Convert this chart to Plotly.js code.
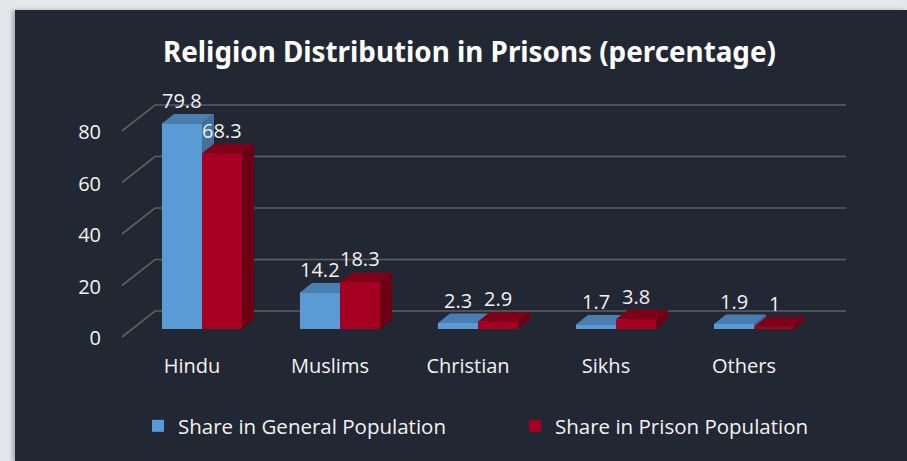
<!DOCTYPE html>
<html>
<head>
<meta charset="utf-8">
<script src="https://cdn.plot.ly/plotly-3.0.1.min.js"></script>
<style>
  html, body { margin: 0; padding: 0; width: 907px; height: 461px; background: #e5e7eb; overflow: hidden; }
  #chart { position: absolute; left: 15px; top: 10px; width: 892px; height: 451px; box-shadow: -3px 0 4px rgba(0,0,0,0.25); }
</style>
</head>
<body>
<div id="chart"></div>
<script>
// ---- data ----
const categories = ["Hindu", "Muslims", "Christian", "Sikhs", "Others"];
const generalPopulation = [79.8, 14.2, 2.3, 1.7, 1.9];
const prisonPopulation = [68.3, 18.3, 2.9, 3.8, 1];
const seriesNames = ["Share in General Population", "Share in Prison Population"];
const yTicks = [0, 20, 40, 60, 80];

// ---- style / geometry constants (layout, not data) ----
const BAR_W = 0.29;           // width of one bar (category units)
const DEPTH_X = 0.087;        // 3D extrusion, x (category units)
const DEPTH_Y = 3.69;         // 3D extrusion, y (value units)
const GRID_LEFT = -0.5797;    // floor front-left corner
const GRID_BACK_X = 0.165, GRID_BACK_Y = 6.99;     // back wall offset from bar front plane
const GRID_FRONT_X = -0.074, GRID_FRONT_Y = -3.107; // floor front edge offset
const GRID_RIGHT = 4.667;
const FONT = "Open Sans";
const TXT = "#f2f2f2";

const colors = [
  { front: "#5b9bd5", top: "#4a7eb0", side: "#41719c" },
  { front: "#a50021", top: "#7e0019", side: "#6b0015" }
];

const xs = categories.map((_, i) => i);

function facePolys(values, off, kind) {
  const px = [], py = [];
  values.forEach((v, i) => {
    const x0 = xs[i] + off, x1 = x0 + BAR_W;
    let pts;
    if (kind === "front") pts = [[x0, 0], [x0, v], [x1, v], [x1, 0]];
    else if (kind === "top") pts = [[x0, v], [x0 + DEPTH_X, v + DEPTH_Y], [x1 + DEPTH_X, v + DEPTH_Y], [x1, v]];
    else pts = [[x1, 0], [x1, v], [x1 + DEPTH_X, v + DEPTH_Y], [x1 + DEPTH_X, DEPTH_Y]];
    pts.forEach(p => { px.push(p[0]); py.push(p[1]); });
    px.push(pts[0][0]); py.push(pts[0][1]);
    px.push(null); py.push(null);
  });
  return { x: px, y: py };
}

const traces = [];

// gridlines (3D wall + floor diagonals)
const gx = [], gy = [];
yTicks.forEach(t => {
  gx.push(GRID_LEFT, GRID_LEFT - GRID_FRONT_X + GRID_BACK_X, GRID_RIGHT, null);
  gy.push(t + GRID_FRONT_Y, t + GRID_BACK_Y, t + GRID_BACK_Y, null);
});
traces.push({ type: "scatter", mode: "lines", x: gx, y: gy, line: { color: "#5c5f63", width: 1.6 }, hoverinfo: "skip", showlegend: false });

// legend proxies (real bars, hidden under the 3D faces)
[generalPopulation, prisonPopulation].forEach((vals, s) => {
  traces.push({
    type: "bar", x: xs, y: vals, name: seriesNames[s],
    offset: s === 0 ? -BAR_W : 0, width: BAR_W,
    marker: { color: colors[s].front, line: { width: 0 } },
    hoverinfo: "skip", showlegend: true, legend: s === 0 ? "legend" : "legend2"
  });
});

// 3D faces drawn in painter order
[generalPopulation, prisonPopulation].forEach((vals, s) => {
  const off = s === 0 ? -BAR_W : 0;
  ["front", "top", "side"].forEach(kind => {
    const p = facePolys(vals, off, kind);
    traces.push({
      type: "scatter", mode: "lines", x: p.x, y: p.y, fill: "toself",
      fillcolor: colors[s][kind], line: { width: 0, color: colors[s][kind] },
      hoverinfo: "skip", showlegend: false
    });
  });
});

// data labels
const annotations = [];
[generalPopulation, prisonPopulation].forEach((vals, s) => {
  vals.forEach((v, i) => {
    annotations.push({
      x: xs[i] + (s === 0 ? -BAR_W / 2 : BAR_W / 2), y: v, xref: "x", yref: "y",
      text: String(v), showarrow: false, yanchor: "middle", yshift: 23,
      font: { family: FONT, size: 20, color: TXT }
    });
  });
});

const legendBase = {
  orientation: "h", xanchor: "left", y: -0.324, yanchor: "middle",
  font: { family: FONT, size: 20.5, color: TXT }, bgcolor: "rgba(0,0,0,0)"
};

const layout = {
  width: 892, height: 451,
  paper_bgcolor: "#222833", plot_bgcolor: "rgba(0,0,0,0)",
  margin: { l: 95, r: 47, t: 85, b: 116 },
  title: {
    text: "<b>Religion Distribution in Prisons (percentage)</b>",
    font: { family: "Noto Sans", size: 27.8, color: "#ffffff" },
    x: 0.5095, xanchor: "center", y: 0.907, yanchor: "middle", yref: "container"
  },
  xaxis: {
    range: [-0.66667, 4.76812], tickmode: "array", tickvals: xs, ticktext: categories,
    showgrid: false, zeroline: false, showline: false, ticks: "",
    tickfont: { family: FONT, size: 20, color: TXT }, ticklabelshift: -10, ticklabelstandoff: 7
  },
  yaxis: {
    range: [-6.2136, 90.874], tickmode: "array", tickvals: yTicks,
    showgrid: false, zeroline: false, showline: false, ticks: "",
    tickfont: { family: FONT, size: 20, color: TXT }, ticklabelshift: 9, ticklabelstandoff: 8
  },
  barmode: "overlay",
  showlegend: true,
  legend: Object.assign({}, legendBase, { x: 0.0373 }),
  legend2: Object.assign({}, legendBase, { x: 0.54 }),
  annotations: annotations
};

Plotly.newPlot("chart", traces, layout, { displayModeBar: false, staticPlot: true });
</script>
</body>
</html>
